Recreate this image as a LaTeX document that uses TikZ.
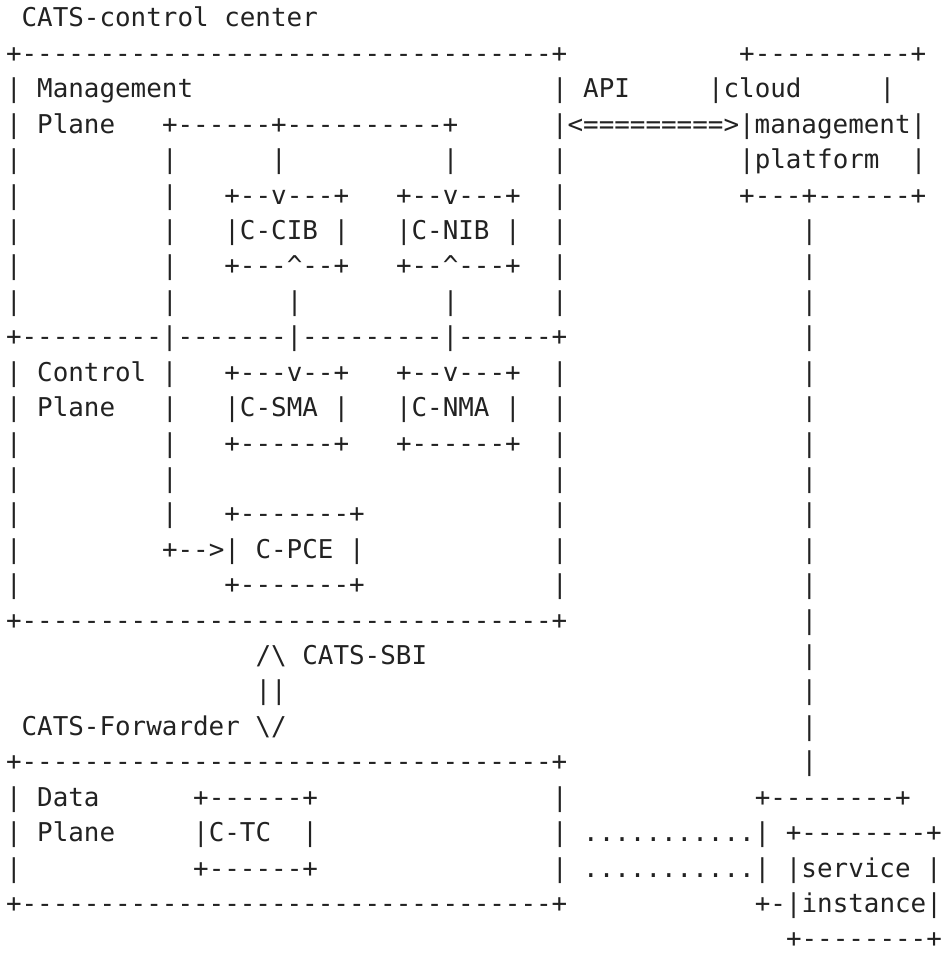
\documentclass[tikz,border=0pt]{standalone}
\usepackage{fontspec}
\setmonofont{DejaVu Sans Mono}
\definecolor{ink}{RGB}{34,34,34}
\tikzset{asc/.style={anchor=base west, inner sep=0pt, outer sep=0pt, text=ink,
  font=\ttfamily\fontsize{25.9}{35.5}\selectfont}}
\newcommand\seg[3]{\node[asc] (r#1c#2) at ({6.0+#2*15.6},{-(27.0+(#1-1)*35.42)}) {#3};}
\begin{document}
\begin{tikzpicture}[x=1pt,y=1pt]
\useasboundingbox (0,0) rectangle (944,-955);
% line 1
\seg{1}{1}{CATS-control center}
% line 2
\seg{2}{0}{+----------------------------------+}
\seg{2}{47}{+----------+}
% line 3
\seg{3}{0}{| Management}
\seg{3}{35}{| API}
\seg{3}{45}{|cloud}
\seg{3}{56}{|}
% line 4
\seg{4}{0}{| Plane}
\seg{4}{10}{+------+----------+}
\seg{4}{35}{|<=========>|management|}
% line 5
\seg{5}{0}{|}\seg{5}{10}{|}\seg{5}{17}{|}\seg{5}{28}{|}\seg{5}{35}{|}
\seg{5}{47}{|platform}\seg{5}{58}{|}
% line 6
\seg{6}{0}{|}\seg{6}{10}{|}
\seg{6}{14}{+--v---+}\seg{6}{25}{+--v---+}
\seg{6}{35}{|}\seg{6}{47}{+---+------+}
% line 7
\seg{7}{0}{|}\seg{7}{10}{|}
\seg{7}{14}{|C-CIB |}\seg{7}{25}{|C-NIB |}
\seg{7}{35}{|}\seg{7}{51}{|}
% line 8
\seg{8}{0}{|}\seg{8}{10}{|}
\seg{8}{14}{+---\textasciicircum--+}\seg{8}{25}{+--\textasciicircum---+}
\seg{8}{35}{|}\seg{8}{51}{|}
% line 9
\seg{9}{0}{|}\seg{9}{10}{|}\seg{9}{18}{|}\seg{9}{28}{|}
\seg{9}{35}{|}\seg{9}{51}{|}
% line 10
\seg{10}{0}{+---------|-------|---------|------+}\seg{10}{51}{|}
% line 11
\seg{11}{0}{| Control |}
\seg{11}{14}{+---v--+}\seg{11}{25}{+--v---+}
\seg{11}{35}{|}\seg{11}{51}{|}
% line 12
\seg{12}{0}{| Plane}\seg{12}{10}{|}
\seg{12}{14}{|C-SMA |}\seg{12}{25}{|C-NMA |}
\seg{12}{35}{|}\seg{12}{51}{|}
% line 13
\seg{13}{0}{|}\seg{13}{10}{|}
\seg{13}{14}{+------+}\seg{13}{25}{+------+}
\seg{13}{35}{|}\seg{13}{51}{|}
% line 14
\seg{14}{0}{|}\seg{14}{10}{|}\seg{14}{35}{|}\seg{14}{51}{|}
% line 15
\seg{15}{0}{|}\seg{15}{10}{|}\seg{15}{14}{+-------+}
\seg{15}{35}{|}\seg{15}{51}{|}
% line 16
\seg{16}{0}{|}\seg{16}{10}{+-->| C-PCE |}
\seg{16}{35}{|}\seg{16}{51}{|}
% line 17
\seg{17}{0}{|}\seg{17}{14}{+-------+}
\seg{17}{35}{|}\seg{17}{51}{|}
% line 18
\seg{18}{0}{+----------------------------------+}\seg{18}{51}{|}
% line 19
\seg{19}{16}{/\textbackslash{} CATS-SBI}\seg{19}{51}{|}
% line 20
\seg{20}{16}{||}\seg{20}{51}{|}
% line 21
\seg{21}{1}{CATS-Forwarder \textbackslash/}\seg{21}{51}{|}
% line 22
\seg{22}{0}{+----------------------------------+}\seg{22}{51}{|}
% line 23
\seg{23}{0}{| Data}\seg{23}{12}{+------+}
\seg{23}{35}{|}\seg{23}{48}{+--------+}
% line 24
\seg{24}{0}{| Plane}\seg{24}{12}{|C-TC}\seg{24}{19}{|}
\seg{24}{35}{| ...........| +--------+}
% line 25
\seg{25}{0}{|}\seg{25}{12}{+------+}
\seg{25}{35}{| ...........| |service |}
% line 26
\seg{26}{0}{+----------------------------------+}\seg{26}{48}{+-|instance|}
% line 27
\seg{27}{50}{+--------+}
\end{tikzpicture}
\end{document}
